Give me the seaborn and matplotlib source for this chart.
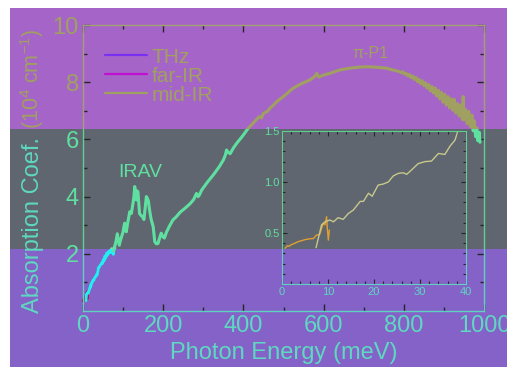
import numpy as np
import pandas as pd
import matplotlib.pyplot as plt
import seaborn as sns
from matplotlib.lines import Line2D
from matplotlib.patches import Rectangle
from matplotlib.transforms import Bbox, TransformedBbox

# --- data (energy in meV, absorption in 1e4 cm^-1) ---
thz_energy = [0.65, 1.2, 1.5, 2.0, 2.8, 3.5, 4.3, 5.0, 5.7, 6.3, 6.8, 7.5, 8.2, 8.6,
              9.0, 9.35, 9.7, 9.85, 10.07, 10.3]
thz_absorb = [0.35, 0.375, 0.37, 0.385, 0.40, 0.415, 0.425, 0.435, 0.44, 0.445, 0.445,
              0.48, 0.485, 0.546, 0.595, 0.58, 0.66, 0.546, 0.43, 0.53]

farir_energy = [7.4, 8.6, 9.35, 10.4, 11.2, 12.2, 13.3, 14.4, 15.5, 17.0, 17.7, 18.8, 19.6,
                20.9, 22.0, 23.1, 24.2, 25.3, 26.4, 27.1, 28.2, 29.6, 31.1, 32.5, 34.0, 35.4,
                36.5, 37.6, 38.3, 40, 42, 44.5, 46.5, 48.5, 50.5, 52.5, 54.5, 56.5, 59, 61,
                63, 65, 67.5, 69.5, 71.5, 73.5, 75.7, 78, 80]
farir_absorb = [0.356, 0.58, 0.61, 0.627, 0.61, 0.65, 0.634, 0.69, 0.725, 0.81, 0.81, 0.89, 0.86,
                0.97, 0.98, 1.0, 1.06, 1.085, 1.09, 1.075, 1.12, 1.18, 1.2, 1.205, 1.28, 1.27,
                1.35, 1.41, 1.51, 1.52, 1.58, 1.62, 1.68, 1.66, 1.8, 1.75, 1.92, 1.85, 2.02, 1.95,
                2.07, 2.02, 2.12, 2.05, 2.18, 2.1, 1.98, 2.24, 2.2]

midir_energy = [76, 80, 82, 85.6, 88, 90.5, 93, 96.4, 100, 102, 104, 106, 108, 112, 116.5, 120.6,
                124.7, 127, 129, 131, 133, 135, 137, 139, 141, 144, 148, 152, 155, 158, 160, 163,
                166, 170, 175, 179, 183, 187, 191, 195, 199, 203, 208, 215, 224, 233, 242, 255,
                267, 276, 283, 287, 290, 296, 310, 325, 340, 350, 355, 358, 362, 367, 375, 383,
                397, 412, 430, 440, 445, 450, 460, 466, 475, 483, 500, 524, 545, 566, 578, 583,
                588, 600, 616, 641, 666, 690, 711, 735, 757, 780,
                790, 794, 798, 802, 806, 810, 814, 818, 822, 826, 830, 834, 838, 842, 846, 850,
                854, 858, 862, 866, 870, 874, 878, 882, 886, 890, 894, 898, 902, 906, 910, 914,
                918, 922, 926, 930, 934, 938, 942, 946, 948, 950, 954, 958, 962, 966, 970, 973,
                976, 979, 982, 985, 988, 990]
midir_absorb = [2.1, 2.3, 2.41, 2.7, 2.5, 2.3, 2.45, 2.6, 2.77, 2.95, 3.07, 2.9, 2.77, 3.12, 3.47, 3.41,
                3.77, 4.0, 4.35, 4.1, 3.88, 4.2, 4.17, 3.8, 3.41, 3.35, 3.3, 3.2, 3.6, 4.0, 3.95, 3.85,
                3.53, 3.2, 2.95, 2.42, 2.35, 2.36, 2.55, 2.72, 2.6, 2.55, 2.75, 2.95, 3.18, 3.3, 3.45, 3.6,
                3.75, 3.9, 4.11, 4.0, 4.05, 4.23, 4.5, 4.76, 5.05, 5.28, 5.45, 5.63, 5.55, 5.5, 5.7, 5.86,
                6.1, 6.39, 6.65, 6.8, 6.75, 6.91, 6.98, 7.09, 7.2, 7.32, 7.5, 7.79, 7.95, 8.08, 8.2, 8.31,
                8.18, 8.25, 8.31, 8.43, 8.49, 8.53, 8.54, 8.52, 8.49, 8.4,
                8.37, 8.33, 8.36, 8.28, 8.31, 8.22, 8.27, 8.16, 8.22, 8.10, 8.17, 8.02, 8.10, 7.95, 8.05, 7.88,
                7.98, 7.80, 7.92, 7.70, 7.85, 7.62, 7.80, 7.52, 7.72, 7.42, 7.65, 7.30, 7.58, 7.20, 7.50, 7.10,
                7.42, 7.02, 7.40, 6.92, 7.25, 6.82, 7.20, 6.70, 7.50, 6.68, 7.05, 6.55, 6.98, 6.45, 6.85, 6.30,
                6.65, 6.10, 6.40, 5.95, 6.25, 5.90]

series_names = ['THz', 'far-IR', 'mid-IR']
x_ticks = [0, 200, 400, 600, 800, 1000]
x_minor = [100, 300, 500, 700, 900]
y_ticks = [2, 4, 6, 8, 10]
y_minor = [1, 3, 5, 7, 9]
inset_x_ticks = [0, 10, 20, 30, 40]
inset_x_minor = [2, 4, 6, 8, 12, 14, 16, 18, 22, 24, 26, 28, 32, 34, 36, 38]
inset_y_ticks = [0.5, 1.0, 1.5]
inset_y_minor = [0.1, 0.2, 0.3, 0.4, 0.6, 0.7, 0.8, 0.9, 1.1, 1.2, 1.3, 1.4]

# --- colours of the three horizontal bands ---
OLIVE, GREEN, AQUA = '#a0a060', '#60e0a0', '#5ed8c0'
text_col = {'top': OLIVE, 'mid': GREEN, 'low': AQUA}
frame_col = {'top': '#a0a070', 'mid': '#60d090', 'low': '#60d0c0'}
band_fill = {'top': '#a565c8', 'mid': '#5f6670', 'low': '#8462c8'}
bands = {'top': (8, 129), 'mid': (129, 249), 'low': (249, 367)}

sns.set_style("ticks")
plt.rcParams['font.family'] = ['Liberation Sans', 'DejaVu Sans']
plt.rcParams['mathtext.fontset'] = 'custom'
plt.rcParams['mathtext.rm'] = 'Liberation Sans'
plt.rcParams['mathtext.it'] = 'Liberation Sans:italic'

W, H = 507, 367
fig = plt.figure(figsize=(W / 100, H / 100), dpi=100, facecolor='white')


def fx(px):
    return px / W


def fy(py):
    return 1 - py / H


def band_at(py):
    if py < 129:
        return 'top'
    return 'mid' if py < 249 else 'low'


def band_clip(name):
    y0, y1 = bands[name]
    return TransformedBbox(Bbox.from_extents(fx(10), fy(y1), 1, fy(y0)), fig.transFigure)


for name, (y0, y1) in bands.items():
    fig.add_artist(Rectangle((fx(10), fy(y1)), 1 - fx(10), (y1 - y0) / H,
                             transform=fig.transFigure, facecolor=band_fill[name],
                             edgecolor='none', zorder=-5))


def banded_line(ax, x, y, colors, lw):
    for name, c in colors.items():
        sns.lineplot(x=x, y=y, ax=ax, color=c, linewidth=lw, sort=False, estimator=None)
        ax.lines[-1].set_clip_box(band_clip(name))


def banded_frame(ax, lw):
    for xs, ys in [([0, 0], [0, 1]), ([1, 1], [0, 1]), ([0, 1], [0, 0]), ([0, 1], [1, 1])]:
        for name, c in frame_col.items():
            ln, = ax.plot(xs, ys, transform=ax.transAxes, color=c, lw=lw, solid_capstyle='projecting')
            ln.set_clip_box(band_clip(name))
    for sp in ax.spines.values():
        sp.set_visible(False)


# --- main axes ---
ax = fig.add_axes([fx(83), fy(311), fx(484) - fx(83), fy(25) - fy(311)])
ax.set_facecolor('none')

banded_line(ax, thz_energy, thz_absorb, {'top': '#7a30f0', 'mid': '#e0a030', 'low': '#b01848'}, 2.2)
banded_line(ax, farir_energy, farir_absorb, {'top': '#c010d0', 'mid': '#90e0c0', 'low': '#20f0f0'}, 2.0)
banded_line(ax, midir_energy, midir_absorb, {'top': OLIVE, 'mid': GREEN, 'low': GREEN}, 2.2)
banded_frame(ax, 1.0)

ax.set_xlim(0, 1000)
ax.set_ylim(0, 10)
ax.set_xticks(x_ticks)
ax.set_xticks(x_minor, minor=True)
ax.set_yticks(y_ticks)
ax.set_yticks(y_minor, minor=True)
ax.tick_params(which='both', direction='in', top=True, right=True, width=1.0)
ax.tick_params(which='major', length=5, labelsize=17)
ax.tick_params(which='minor', length=3)
ax.tick_params(axis='y', pad=3)
ax.tick_params(axis='x', pad=3)

for tick in ax.xaxis.get_major_ticks() + ax.xaxis.get_minor_ticks():
    tick.tick1line.set_color(frame_col['low'])
    tick.tick2line.set_color(frame_col['top'])
    tick.label1.set_color(AQUA)
for v, tick in zip(y_ticks, ax.yaxis.get_major_ticks()):
    b = band_at(311 - 28.6 * v)
    tick.tick1line.set_color(frame_col[b])
    tick.tick2line.set_color(frame_col[b])
    tick.label1.set_color(GREEN if b == 'low' else text_col[b])
for v, tick in zip(y_minor, ax.yaxis.get_minor_ticks()):
    b = band_at(311 - 28.6 * v)
    tick.tick1line.set_color(frame_col[b])
    tick.tick2line.set_color(frame_col[b])

ax.set_xlabel('Photon Energy (meV)', fontsize=17, color=AQUA, labelpad=3.5)
ax.set_ylabel('')
fig.text(fx(39), fy(313), 'Absorption Coef.', rotation=90, rotation_mode='anchor',
         ha='left', va='baseline', fontsize=17, color=AQUA)
fig.text(fx(39), fy(129), '(10$^{4}$ cm$^{-1}$)', rotation=90, rotation_mode='anchor',
         ha='left', va='baseline', fontsize=15.5, color=OLIVE)

ax.text(142, 4.86, 'IRAV', ha='center', va='center', fontsize=14, color=GREEN)
ax.text(716, 9.02, 'π-P1', ha='center', va='center', fontsize=11.5, color=OLIVE)

handles = [Line2D([], [], color=c, lw=1.6) for c in ['#7a30f0', '#c010d0', OLIVE]]
leg = ax.legend(handles, series_names, loc='upper left', bbox_to_anchor=(0.055, 0.921),
                frameon=False, fontsize=15, handlelength=2.0, handletextpad=0.25,
                labelspacing=0.0, borderpad=0, borderaxespad=0)
for t in leg.get_texts():
    t.set_color(OLIVE)

# --- inset ---
axi = fig.add_axes([fx(282), fy(284), fx(466) - fx(282), fy(131) - fy(284)])
axi.set_facecolor('none')
sns.lineplot(x=thz_energy, y=thz_absorb, ax=axi, color='#e0a030', linewidth=1.0,
             sort=False, estimator=None)
sns.lineplot(x=farir_energy, y=farir_absorb, ax=axi, color='#c8c88c', linewidth=1.0,
             sort=False, estimator=None)
banded_frame(axi, 0.8)
axi.set_xlim(0, 40)
axi.set_ylim(0, 1.5)
axi.set_xticks(inset_x_ticks)
axi.set_xticks(inset_x_minor, minor=True)
axi.set_yticks(inset_y_ticks)
axi.set_yticks(inset_y_minor, minor=True)
axi.set_yticklabels(['0.5', '1.0', '1.5'])
axi.tick_params(which='both', direction='in', top=True, right=True, width=0.8)
axi.tick_params(which='major', length=3.6, labelsize=8)
axi.tick_params(which='minor', length=2.2)
axi.tick_params(axis='y', pad=1.5)
axi.tick_params(axis='x', pad=2)
for tick in axi.xaxis.get_major_ticks() + axi.xaxis.get_minor_ticks():
    tick.tick1line.set_color(frame_col['low'])
    tick.tick2line.set_color(frame_col['mid'])
    tick.label1.set_color(AQUA)
for v, tick in zip(inset_y_ticks + inset_y_minor,
                   axi.yaxis.get_major_ticks() + axi.yaxis.get_minor_ticks()):
    b = band_at(284 - 102 * v)
    tick.tick1line.set_color(frame_col[b])
    tick.tick2line.set_color(frame_col[b])
    tick.label1.set_color(GREEN)
axi.set_xlabel('')
axi.set_ylabel('')

fig.savefig('out.png', dpi=100)
